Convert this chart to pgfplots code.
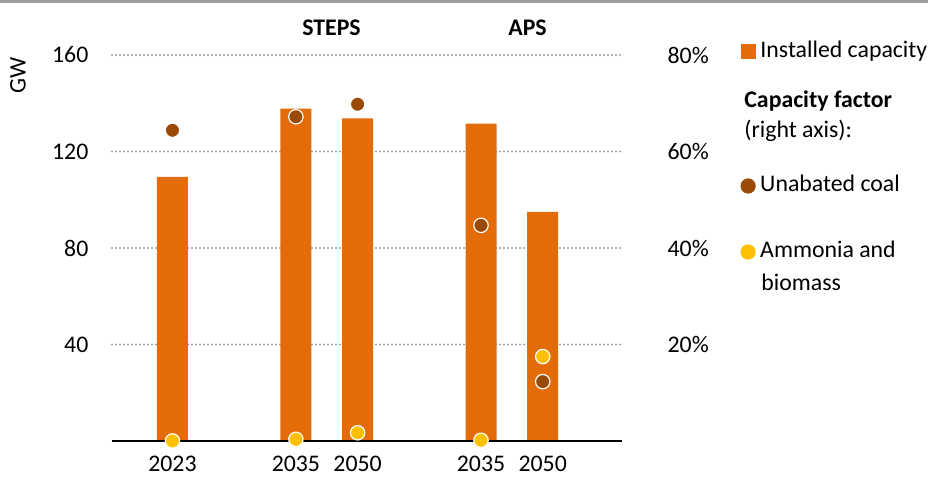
\documentclass[border=0pt]{standalone}
\usepackage{fontspec}
\setmainfont{Carlito}
\usepackage{pgfplots}
\pgfplotsset{compat=1.18}
\definecolor{barc}{HTML}{E36C09}
\definecolor{coal}{HTML}{9A4A05}
\definecolor{amm}{HTML}{FFC000}
\definecolor{gridc}{HTML}{9C9C9C}
\definecolor{topc}{HTML}{9E9E9E}
\begin{document}
\begin{tikzpicture}[font=\fontsize{11.9}{15}\selectfont]
\path[use as bounding box] (0,0) rectangle (464pt,240pt);
\draw[topc, line width=1.5pt] (0,239.25pt) -- (464pt,239.25pt);
\begin{axis}[
  at={(56pt,19.5pt)}, anchor=south west,
  scale only axis, width=255pt, height=193pt,
  xmin=-0.98, xmax=7.285, ymin=0, ymax=160,
  axis x line*=bottom, axis y line*=left,
  x axis line style={draw=none}, y axis line style={draw=none},
  xtick={0,2,3,5,6}, xticklabels={2023,2035,2050,2035,2050},
  ytick={40,80,120,160}, yticklabels={40,80,120,160},
  major tick length=0pt,
  ymajorgrids, grid style={gridc, line width=1.1pt, line cap=round, dash pattern=on 0pt off 2pt},
  xticklabel style={yshift=-4pt},
  yticklabel style={xshift=-8.3pt},
  clip=false,
  legend style={at={(1.2333,1.0078)}, anchor=west, draw=none, fill=none, inner sep=0pt, outer sep=0pt, column sep=1.25pt, nodes={inner xsep=1pt, inner ysep=0pt, text height=8pt, text depth=2.5pt}},
  legend cell align=left,
]
\addplot[ybar, bar width=15.5pt, fill=barc, draw=none, legend image code/.code={\fill[barc] (0pt,-3.75pt) rectangle (7.5pt,3.75pt);}] coordinates {(0,109.5) (2,137.8) (3,133.7) (5,131.5) (6,95.0)};
\addlegendentry{Installed capacity}
\draw[black, line width=1pt] (rel axis cs:0,0) -- (rel axis cs:1,0);
\end{axis}
\begin{axis}[
  at={(56pt,19.5pt)}, anchor=south west,
  scale only axis, width=255pt, height=193pt,
  xmin=-0.98, xmax=7.285, ymin=0, ymax=80,
  axis x line=none, axis y line*=right, y axis line style={draw=none},
  ytick={20,40,60,80}, yticklabels={20\%,40\%,60\%,80\%},
  major tick length=0pt,
  yticklabel style={anchor=west, xshift=19.3pt},
  clip=false,
  legend style={at={(1.2324,0.5751)}, anchor=west, draw=none, fill=none, inner sep=0pt, outer sep=0pt, column sep=1.25pt, row sep=22.5pt, nodes={inner xsep=1pt, inner ysep=0pt, text height=8pt, text depth=2.5pt}},
  legend cell align=left,
]
\addplot[only marks, mark=*, mark size=3.6pt, mark options={fill=coal, draw=white, line width=0.6pt}, legend image code/.code={\fill[coal] (0pt,0pt) circle (3.6pt);}] coordinates {(0,64.4) (2,67.2) (3,69.8) (5,44.7) (6,12.3)};
\addlegendentry{Unabated coal}
\addplot[only marks, mark=*, mark size=3.6pt, mark options={fill=amm, draw=white, line width=0.6pt}, legend image code/.code={\fill[amm] (0pt,0pt) circle (3.6pt);}] coordinates {(0,0) (2,0.35) (3,1.7) (5,0.15) (6,17.5)};
\addlegendentry{Ammonia and}
\end{axis}
\node[rotate=90] at (9pt,202.5pt) {GW};
\node at (165.75pt,226pt) {\bfseries STEPS};
\node at (263.75pt,226pt) {\bfseries APS};
\node[anchor=west, align=left, inner sep=0pt] at (372pt,181.75pt) {\textbf{Capacity factor}\\(right axis):};
\node[anchor=west, inner sep=0pt] at (380.5pt,99pt) {biomass};
\end{tikzpicture}
\end{document}
